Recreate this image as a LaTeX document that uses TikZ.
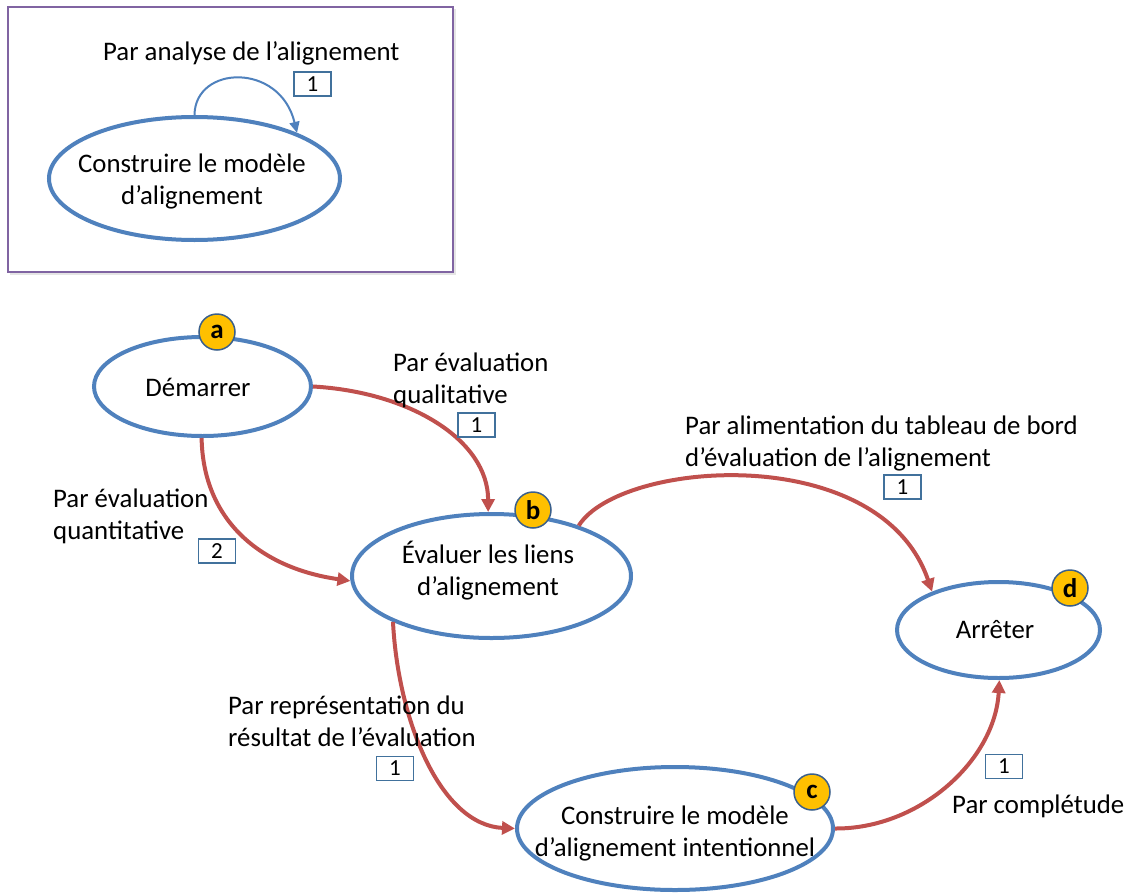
\documentclass[tikz,border=0pt]{standalone}
\usepackage{fontspec}
\setmainfont{Carlito}
\usetikzlibrary{shapes.geometric,arrows.meta}

\definecolor{stateblue}{HTML}{4F81BD}
\definecolor{linkred}{HTML}{C0504D}
\definecolor{framepurple}{HTML}{8064A2}
\definecolor{badgefill}{HTML}{FFC000}
\definecolor{badgeline}{HTML}{3A5F8B}
\definecolor{tagline}{HTML}{41719C}

% multi-line texts are anchored at the baseline of their last line
\tikzset{
  state/.style={ellipse, draw=stateblue, line width=4pt, inner sep=0pt, fill=white},
  statetext/.style={anchor=base, align=center, inner sep=0pt, font=\fontsize{26.8}{32}\selectfont},
  lbl/.style={anchor=base west, align=left, inner sep=0pt, font=\fontsize{26.8}{32}\selectfont},
  link/.style={draw=linkred, line width=4pt, -{Triangle[length=13pt,width=13pt]}},
  loop/.style={draw=stateblue, line width=2pt, -{Triangle[length=11pt,width=10pt]}},
  badge/.style={circle, draw=badgeline, line width=1.5pt, fill=badgefill, minimum size=36pt,
    inner sep=0pt, font=\fontsize{27}{27}\selectfont\bfseries},
  tag/.style={draw=tagline, line width=1.3pt, minimum width=37pt, minimum height=24pt,
    inner sep=0pt, font=\fontsize{23}{23}\selectfont}
}

\begin{document}
\begin{tikzpicture}[x=1pt,y=-1pt]
  \useasboundingbox (0,0) rectangle (1129,894);

  % legend frame with its single self-loop
  \fill[black!10] (10,9) rectangle (455.5,274.5);
  \draw[framepurple, line width=2pt, fill=white] (8,7) rectangle (453,272);

  \node[state, minimum width=291pt, minimum height=123pt] (ins) at (194.5,178.5) {};
  \node[statetext] (insT) at (192,204) {Construire le modèle\\d’alignement};
  \draw[loop] (ins.90) .. controls (195,65) and (280,62) .. (ins.24);
  \node[lbl] (insL) at (103,60) {Par analyse de l’alignement};
  \node[tag] (insN) at (312.5,84) {1};

  % states of the process map
  \node[state, minimum width=217pt, minimum height=99pt] (dem) at (202.5,386.5) {};
  \node[statetext] (demT) at (198,396) {Démarrer};

  \node[state, minimum width=279pt, minimum height=124pt] (ev) at (491.5,576) {};
  \node[statetext] (evT) at (488,595) {Évaluer les liens\\d’alignement};

  \node[state, minimum width=316pt, minimum height=123pt] (con) at (675,828.5) {};
  \node[statetext] (conT) at (675,856) {Construire le modèle\\d’alignement intentionnel};

  \node[state, minimum width=203pt, minimum height=96pt] (arr) at (998.5,630) {};
  \node[statetext] (arrT) at (995,638) {Arrêter};

  % strategies between states
  \draw[link] (dem.east) .. controls (410,392) and (488,440) .. (ev.93);
  \draw[link] (dem.-91) .. controls (203,520) and (260,568) .. (ev.182);
  \draw[link] (ev.30) .. controls (620,460) and (880,440) .. (arr.150);
  \draw[link] (ev.205) .. controls (398,720) and (440,825) .. (con.west);
  \draw[link] (con.east) .. controls (920,829) and (995,760) .. (arr.-89);

  % strategy labels and their counts
  \node[lbl] (qualL) at (393,403) {Par évaluation\\qualitative};
  \node[tag] (qualN) at (476.5,425) {1};

  \node[lbl] (quanL) at (53,539) {Par évaluation\\quantitative};
  \node[tag] (quanN) at (217,551) {2};

  \node[lbl] (alimL) at (685,466) {Par alimentation du tableau de bord\\d’évaluation de l’alignement};
  \node[tag] (alimN) at (902.5,487) {1};

  \node[lbl] (repL) at (228,746) {Par représentation du\\résultat de l’évaluation};
  \node[tag] (repN) at (395,768.5) {1};

  \node[tag] (compN) at (1004,766.5) {1};
  \node[lbl] (compL) at (952,813) {Par complétude};

  % section badges
  \node[badge] (ba) at (217,332) {a};
  \node[badge] (bb) at (533,510) {b};
  \node[badge] (bc) at (812,792) {c};
  \node[badge] (bd) at (1070,588) {d};
\end{tikzpicture}
\end{document}
